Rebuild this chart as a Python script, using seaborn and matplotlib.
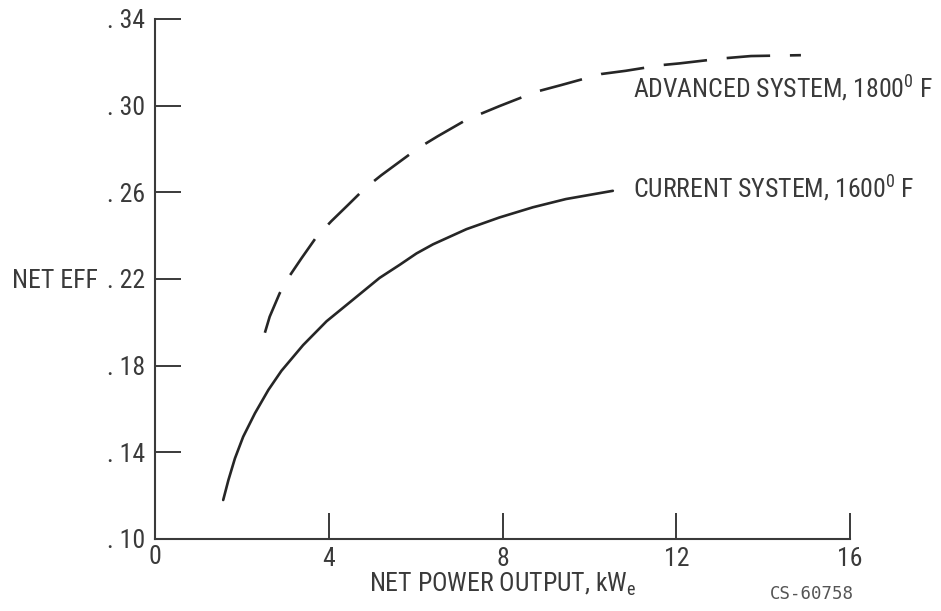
import matplotlib
matplotlib.use("Agg")
import matplotlib.pyplot as plt
from matplotlib import font_manager
import seaborn as sns
import pandas as pd

# Data
current_x = [1.57, 1.69, 1.84, 2.03, 2.30, 2.61, 2.91, 3.41, 3.95, 4.50, 5.17, 5.63, 6.02, 6.40, 7.17, 7.93, 8.70, 9.46, 10.54]
current_y = [0.118, 0.1272, 0.1372, 0.1472, 0.158, 0.1688, 0.1776, 0.1895, 0.2005, 0.2095, 0.2205, 0.2265, 0.2318, 0.2360, 0.2430, 0.2484, 0.2531, 0.2569, 0.2607]
advanced_x = [2.53, 2.64, 2.87, 3.06, 3.37, 3.72, 4.06, 4.44, 4.83, 5.21, 5.63, 6.05, 6.51, 7.17, 7.93, 8.77, 9.35, 10.27, 10.84, 11.65, 12.07, 13.06, 13.72, 14.87]
advanced_y = [0.1952, 0.2026, 0.2134, 0.2203, 0.2295, 0.2395, 0.2467, 0.2541, 0.2618, 0.2679, 0.2741, 0.2803, 0.2859, 0.2935, 0.2998, 0.3064, 0.3095, 0.3146, 0.3161, 0.3187, 0.3195, 0.3218, 0.3229, 0.3233]
x_ticks = [4, 8, 12, 16]
x_tick_labels = ["4", "8", "12", "16"]
y_ticks = [0.10, 0.14, 0.18, 0.22, 0.26, 0.30, 0.34]
y_tick_labels = [". 10", ". 14", ". 18", ". 22", ". 26", ". 30", ". 34"]
label_advanced = "ADVANCED SYSTEM, 1800$^{\\mathregular{0}}$ F"
label_current = "CURRENT SYSTEM, 1600$^{\\mathregular{0}}$ F"

sns.set_style("white")

available = {f.name for f in font_manager.fontManager.ttflist}
candidates = [("Roboto Condensed", 18.5), ("DejaVu Sans Condensed", 16.5),
              ("Liberation Sans Narrow", 18), ("DejaVu Sans", 15)]
FONT, FS = "DejaVu Sans", 15
for name, size in candidates:
    if name in available:
        FONT, FS = name, size
        break

plt.rcParams["font.family"] = [FONT, "DejaVu Sans"]
plt.rcParams["mathtext.fontset"] = "custom"
plt.rcParams["mathtext.rm"] = FONT
plt.rcParams["mathtext.it"] = FONT
plt.rcParams["mathtext.bf"] = FONT

INK = "#262626"
TXT = "#3a3a3a"

fig = plt.figure(figsize=(9.41, 6.11), dpi=100)
ax = fig.add_axes([155/941, 1-539/611, (850-155)/941, (539-19)/611])

df_cur = pd.DataFrame({"x": current_x, "y": current_y})
df_adv = pd.DataFrame({"x": advanced_x, "y": advanced_y})
sns.lineplot(data=df_cur, x="x", y="y", ax=ax, color=INK, lw=1.9, sort=False)
sns.lineplot(data=df_adv, x="x", y="y", ax=ax, color=INK, lw=1.9, sort=False,
             linestyle=(0, (16.5, 7.5)))

ax.set_xlim(0, 16)
ax.set_ylim(0.10, 0.34)
for s in ["top", "right"]:
    ax.spines[s].set_visible(False)
for s in ["left", "bottom"]:
    ax.spines[s].set_color("#3a3a3a")
    ax.spines[s].set_linewidth(1.5)

ax.set_xticks(x_ticks)
ax.set_xticklabels(x_tick_labels)
ax.set_yticks(y_ticks)
ax.set_yticklabels(y_tick_labels)
ax.tick_params(axis="both", direction="in", length=18.5, width=1.4, color="#3a3a3a",
               labelsize=FS, labelcolor=TXT, bottom=True, left=True)
ax.tick_params(axis="y", pad=7)
ax.tick_params(axis="x", pad=6)
ax.text(0, -0.012, "0", transform=ax.get_xaxis_transform(), ha="center", va="top",
        fontsize=FS, color=TXT)
ax.set_xlabel("")
ax.set_ylabel("")

ax.text(11.0, 0.3084, label_advanced, ha="left", va="center", fontsize=FS, color=TXT)
ax.text(11.0, 0.2618, label_current, ha="left", va="center", fontsize=FS, color=TXT)

fig.text(12/941, 1-281/611, "NET EFF", ha="left", va="center", fontsize=FS, color=TXT)
fig.text(503/941, 1-592/611, "NET POWER OUTPUT, kW$_{\\mathregular{e}}$", ha="center", va="baseline",
         fontsize=FS, color=TXT)
fig.text(812/941, 1-594/611, "CS-60758", ha="center", va="center", fontsize=12.5,
         color="#555555", family=["DejaVu Sans Mono", "DejaVu Sans"])

fig.savefig("out.png", dpi=100)
